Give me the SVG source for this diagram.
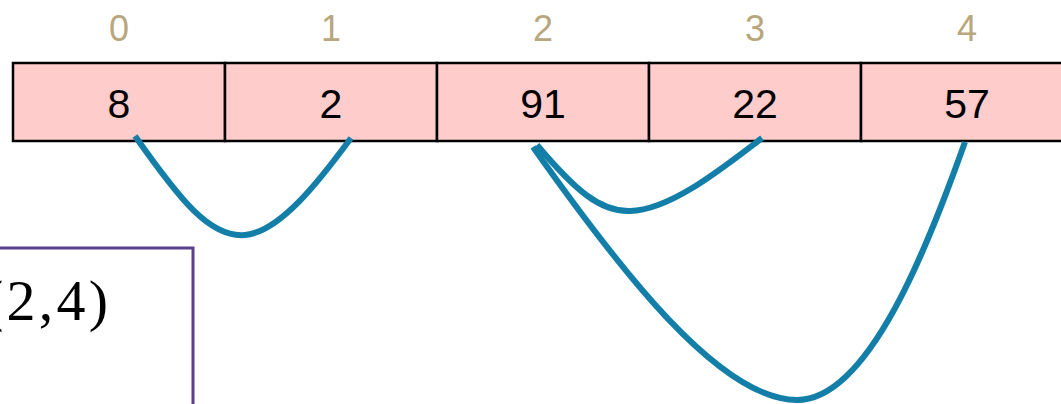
<svg xmlns="http://www.w3.org/2000/svg" width="1061" height="404" viewBox="0 0 1061 404">
<style>
.cell{fill:#ffcccc;stroke:#000;stroke-width:2.5}
.idx{font-family:"Liberation Sans",Arial,sans-serif;font-size:36px;fill:#b8a67c;text-anchor:middle}
.val{font-family:"Liberation Sans",Arial,sans-serif;font-size:41px;fill:#000;text-anchor:middle}
.arc{fill:none;stroke:#137fa8;stroke-width:6}
</style>
<rect width="1061" height="404" fill="#fff"/>
<g id="cell0"><rect class="cell" x="13" y="63" width="212" height="78"/><text class="idx" x="119" y="41">0</text><text class="val" x="119" y="118">8</text></g>
<g id="cell1"><rect class="cell" x="225" y="63" width="212" height="78"/><text class="idx" x="331" y="41">1</text><text class="val" x="331" y="118">2</text></g>
<g id="cell2"><rect class="cell" x="437" y="63" width="212" height="78"/><text class="idx" x="543" y="41">2</text><text class="val" x="543" y="118">91</text></g>
<g id="cell3"><rect class="cell" x="649" y="63" width="212" height="78"/><text class="idx" x="755" y="41">3</text><text class="val" x="755" y="118">22</text></g>
<g id="cell4"><rect class="cell" x="861" y="63" width="212" height="78"/><text class="idx" x="967" y="41">4</text><text class="val" x="967" y="118">57</text></g>
<g id="box">
<path d="M0,248 H193 V404" fill="none" stroke="#5b3f8c" stroke-width="3"/>
<text x="-16" y="320" font-family="'Liberation Serif','Times New Roman',serif" font-size="58" fill="#000" textLength="124" lengthAdjust="spacing">(2,4)</text>
</g>
<g id="connectors">
<path class="arc" d="M135,136 C180,200 210,238 245,235 C280,232 320,180 351,138"/>
<path class="arc" d="M537,145 C575,190 600,212 630,211 C670,210 720,170 762,138"/>
<path class="arc" d="M533,147 C620,270 720,400 797,400 C870,400 930,240 965,142"/>
</g>
</svg>
